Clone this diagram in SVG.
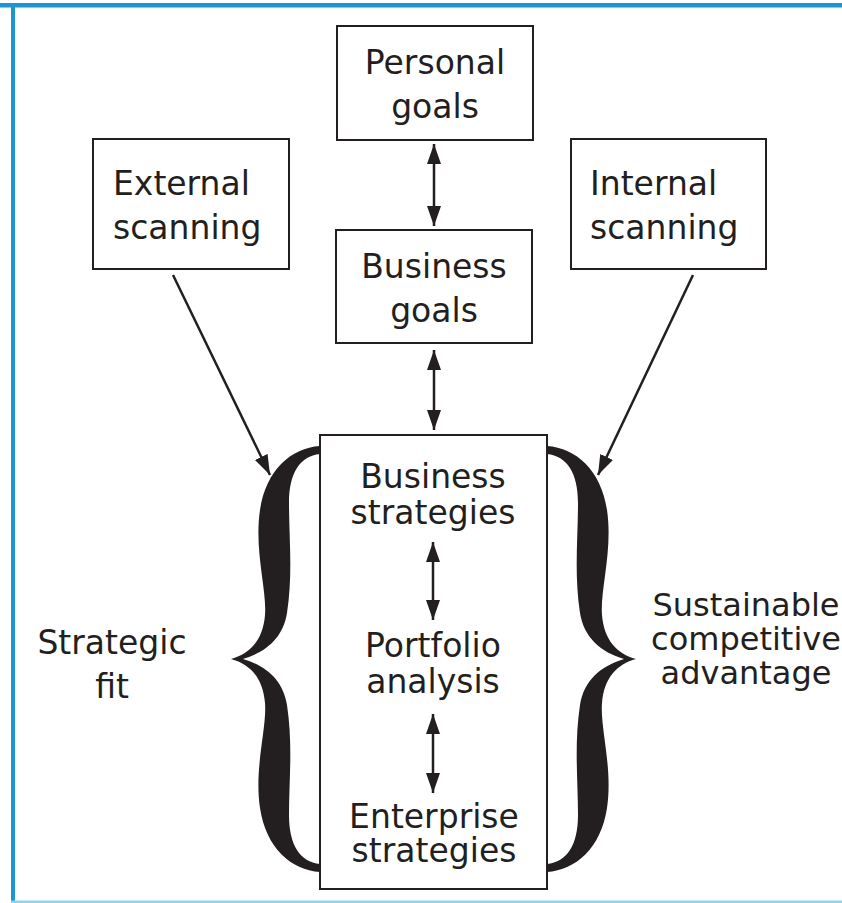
<svg xmlns="http://www.w3.org/2000/svg" width="842" height="903" viewBox="0 0 842 903">
<style>
.box{fill:#fff;stroke:#231f20;stroke-width:2}
.t{font-family:"DejaVu Sans","Liberation Sans",sans-serif;font-size:33px;fill:#231f20}
.s{font-size:32px}
.c{text-anchor:middle}
.conn line{stroke:#231f20;stroke-width:2.5}
.brace{fill:#231f20}
</style>
<defs>
<marker id="ah" markerUnits="userSpaceOnUse" markerWidth="20" markerHeight="14" refX="20" refY="7" orient="auto-start-reverse" viewBox="0 0 20 14">
<path d="M0,0 L20,7 L0,14 z" fill="#231f20"/>
</marker>
<path id="br" d="M320,446 C291,448 266,470 260,510 C254,550 267,590 265,615 C263,640 250,654 231,659 C250,664 263,678 265,703 C267,728 254,768 260,808 C266,848 291,870 320,872 L320,864 C300,862 289,845 289,815 C289,780 293,745 287,705 C283,680 266,666 243,659 C266,652 283,638 287,613 C293,573 289,538 289,503 C289,473 300,456 320,454 Z"/>
</defs>
<rect width="842" height="903" fill="#fff"/>
<rect x="0" y="3" width="842" height="4.5" fill="#1a96d0"/>
<rect x="11" y="3" width="4" height="900" fill="#1a96d0"/>
<rect x="11" y="900.5" width="831" height="2.5" fill="#8ed3f3"/>

<g id="personal-goals">
<rect class="box" x="337" y="26" width="196" height="114"/>
<text class="t c" x="435" y="74">Personal</text>
<text class="t c" x="435" y="118">goals</text>
</g>
<g id="external-scanning">
<rect class="box" x="93" y="139" width="196" height="130"/>
<text class="t" x="113" y="195">External</text>
<text class="t" x="113" y="239">scanning</text>
</g>
<g id="internal-scanning">
<rect class="box" x="571" y="139" width="195" height="130"/>
<text class="t" x="590" y="195">Internal</text>
<text class="t" x="590" y="239">scanning</text>
</g>
<g id="business-goals">
<rect class="box" x="336" y="230" width="196" height="113"/>
<text class="t c" x="434" y="278">Business</text>
<text class="t c" x="434" y="322">goals</text>
</g>
<g id="strategy-box">
<rect class="box" x="320" y="435" width="227" height="454"/>
</g>
<g id="business-strategies">
<text class="t c" x="433" y="488">Business</text>
<text class="t c" x="433" y="524">strategies</text>
</g>
<g id="portfolio-analysis">
<text class="t c" x="433" y="657">Portfolio</text>
<text class="t c" x="433" y="693">analysis</text>
</g>
<g id="enterprise-strategies">
<text class="t c" x="434" y="828">Enterprise</text>
<text class="t c" x="434" y="862">strategies</text>
</g>
<g id="strategic-fit">
<use href="#br" class="brace"/>
<text class="t c" x="112" y="654">Strategic</text>
<text class="t c" x="112" y="698">fit</text>
</g>
<g id="sustainable-advantage">
<use href="#br" class="brace" transform="translate(867,0) scale(-1,1)"/>
<text class="t s c" x="746" y="616">Sustainable</text>
<text class="t s c" x="746" y="650">competitive</text>
<text class="t s c" x="746" y="684">advantage</text>
</g>
<g id="connectors" class="conn">
<line x1="434" y1="144" x2="434" y2="226" marker-start="url(#ah)" marker-end="url(#ah)"/>
<line x1="434" y1="350" x2="434" y2="430" marker-start="url(#ah)" marker-end="url(#ah)"/>
<line x1="433" y1="542" x2="433" y2="620" marker-start="url(#ah)" marker-end="url(#ah)"/>
<line x1="433" y1="714" x2="433" y2="793" marker-start="url(#ah)" marker-end="url(#ah)"/>
<line x1="173" y1="275" x2="270" y2="475" marker-end="url(#ah)"/>
<line x1="693" y1="275" x2="598" y2="475" marker-end="url(#ah)"/>
</g>
</svg>
